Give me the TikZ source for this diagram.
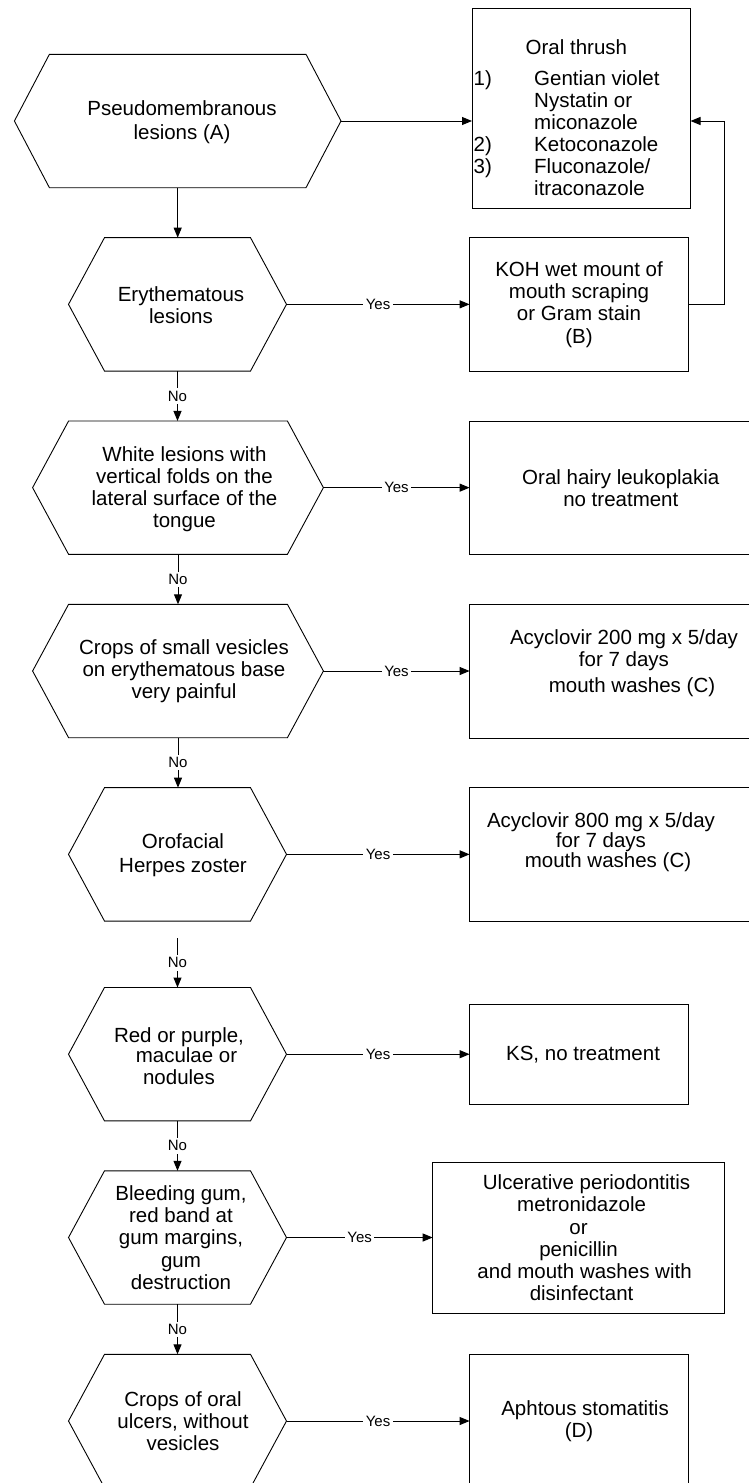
\documentclass[tikz,border=0pt]{standalone}
\usepackage{fontspec}
\setmainfont{Liberation Sans}
\usetikzlibrary{arrows.meta}

% outline of a decision hexagon around an (invisible) node
\newcommand\hexframe[2]{%
  \draw[hexline] (#1.west) -- ([xshift=#2]#1.north west) -- ([xshift=-#2]#1.north east)
    -- (#1.east) -- ([xshift=-#2]#1.south east) -- ([xshift=#2]#1.south west) -- cycle;}

\begin{document}
\begin{tikzpicture}[x=1pt,y=-1pt,
  txt/.style={font=\fontsize{20.5}{22}\selectfont, align=center, inner sep=0pt},
  hexnode/.style={minimum width=#1, minimum height=133.4pt, inner sep=0pt, outer sep=0pt},
  boxnode/.style={txt, draw, line width=1pt, rectangle, outer sep=0pt},
  lbl/.style={font=\fontsize{15}{16}\selectfont, fill=white, inner sep=2.5pt},
  flow/.style={line width=1pt, -{Triangle[length=10pt,width=8pt]}},
  hexline/.style={line width=0.9pt, line join=miter}
]
\useasboundingbox (0,0) rectangle (749,1483);
\clip (0,0) rectangle (749,1483);

% ---------- treatment boxes ----------
\node[boxnode, minimum width=218.5pt, minimum height=200.3pt] (thrush) at (581.25,108.15) {};
\node[txt] (thrushT) at (576.4,47) {Oral thrush};
\node[txt, align=left, anchor=west] (thrushL) at (473.4,133) {%
  \makebox[60.6pt][l]{1)}Gentian violet\\
  \hspace*{60.6pt}Nystatin or\\
  \hspace*{60.6pt}miconazole\\
  \makebox[60.6pt][l]{2)}Ketoconazole\\
  \makebox[60.6pt][l]{3)}Fluconazole/\\
  \hspace*{60.6pt}itraconazole};

\node[boxnode, minimum width=218.9pt, minimum height=133.3pt] (koh) at (579.05,304.35)
  {KOH wet mount of\\[0.3pt]mouth scraping\\[0.3pt]or Gram stain\\[0.3pt](B)};

\node[boxnode, minimum width=302.4pt, minimum height=133pt] (leuko) at (620.8,487.8)
  {Oral hairy leukoplakia\\no treatment};

\node[boxnode, minimum width=302.4pt, minimum height=134pt] (acy2) at (620.8,671.3) {};
\node[txt] (acy2t) at (624,663)
  {Acyclovir 200 mg x 5/day\\for 7 days\hspace*{12pt}\\[4pt]\hspace*{16pt}mouth washes (C)};

\node[boxnode, minimum width=302.4pt, minimum height=134pt] (acy8) at (620.8,854.7) {};
\node[txt, font=\fontsize{20.5}{20}\selectfont] (acy8t) at (601,842.5)
  {Acyclovir 800 mg x 5/day\\for 7 days\hspace*{24pt}\\\hspace*{14pt}mouth washes (C)};

\node[boxnode, minimum width=218.9pt, minimum height=100pt] (ks) at (579.05,1054.3)
  {\hspace*{8pt}KS, no treatment};

\node[boxnode, minimum width=291.8pt, minimum height=150.3pt,
      font=\fontsize{20.5}{22.3}\selectfont] (ulcer) at (578.6,1237.85)
  {\hspace*{16pt}Ulcerative periodontitis\\\hspace*{6pt}metronidazole\\or\\penicillin\hspace*{7pt}\\
   \hspace*{12pt}and mouth washes with\\\hspace*{6pt}disinfectant};

\node[boxnode, minimum width=218.9pt, minimum height=133.4pt] (aph) at (579.05,1421)
  {\hspace*{12pt}Aphtous stomatitis\\(D)};

% ---------- decision hexagons ----------
\node[hexnode=326.6pt] (hA) at (177.7,121) {};
\hexframe{hA}{35pt}
\node[txt] (hAt) at (182,122) {Pseudomembranous\\[1.5pt]lesions (A)};

\node[hexnode=218pt] (hEry) at (177.5,304.35) {};
\hexframe{hEry}{36pt}
\node[txt] (hEryt) at (181,305) {Erythematous\\lesions};

\node[hexnode=290.8pt] (hWhite) at (178,487.65) {};
\hexframe{hWhite}{36pt}
\node[txt] (hWhitet) at (184.5,489) {White lesions with\\vertical folds on the\\lateral surface of the\\tongue};

\node[hexnode=290.8pt] (hCrops) at (178,671) {};
\hexframe{hCrops}{36pt}
\node[txt] (hCropst) at (184,671.5) {Crops of small vesicles\\on erythematous base\\very painful};

\node[hexnode=218pt] (hOro) at (177.5,854.35) {};
\hexframe{hOro}{36pt}
\node[txt] (hOrot) at (183,855) {Orofacial\\[1.7pt]Herpes zoster};

\node[hexnode=218pt] (hRed) at (177.5,1054.2) {};
\hexframe{hRed}{36pt}
\node[txt] (hRedt) at (179,1056.5) {Red or purple,\\[-2pt]\hspace*{15pt}maculae or\\nodules};

\node[hexnode=218pt] (hBleed) at (177.5,1237.5) {};
\hexframe{hBleed}{36pt}
\node[txt, font=\fontsize{20.5}{22.25}\selectfont] (hBleedt) at (181,1237.5)
  {Bleeding gum,\\red band at\\gum margins,\\gum\\destruction};

\node[hexnode=218pt] (hUlc) at (177.5,1421) {};
\hexframe{hUlc}{36pt}
\node[txt] (hUlct) at (183,1421) {Crops of oral\\ulcers, without\\vesicles};

% ---------- connectors ----------
\draw[flow] (hA.east) -- (hA.east -| thrush.west);
\draw[flow] (hA.south) -- (hA.south |- hEry.north);
\draw[flow] (hEry.east) -- node[lbl]{Yes} (hEry.east -| koh.west);
\draw[flow] (koh.east) -- ++(35.5,0) |- (hA.east -| thrush.east);

\draw[flow] (hEry.south) -- node[lbl]{No} (hEry.south |- hWhite.north);
\draw[flow] (hWhite.east) -- node[lbl]{Yes} (hWhite.east -| leuko.west);

\draw[flow] (hWhite.south) -- node[lbl]{No} (hWhite.south |- hCrops.north);
\draw[flow] (hCrops.east) -- node[lbl]{Yes} (hCrops.east -| acy2.west);

\draw[flow] (hCrops.south) -- node[lbl]{No} (hCrops.south |- hOro.north);
\draw[flow] (hOro.east) -- node[lbl]{Yes} (hOro.east -| acy8.west);

\coordinate (oroGap) at ([yshift=-17pt]hOro.south);
\draw[flow] (oroGap) -- node[lbl]{No} (oroGap |- hRed.north);
\draw[flow] (hRed.east) -- node[lbl]{Yes} (hRed.east -| ks.west);

\draw[flow] (hRed.south) -- node[lbl]{No} (hRed.south |- hBleed.north);
\draw[flow] (hBleed.east) -- node[lbl]{Yes} (hBleed.east -| ulcer.west);

\draw[flow] (hBleed.south) -- node[lbl]{No} (hBleed.south |- hUlc.north);
\draw[flow] (hUlc.east) -- node[lbl]{Yes} (hUlc.east -| aph.west);
\end{tikzpicture}
\end{document}
